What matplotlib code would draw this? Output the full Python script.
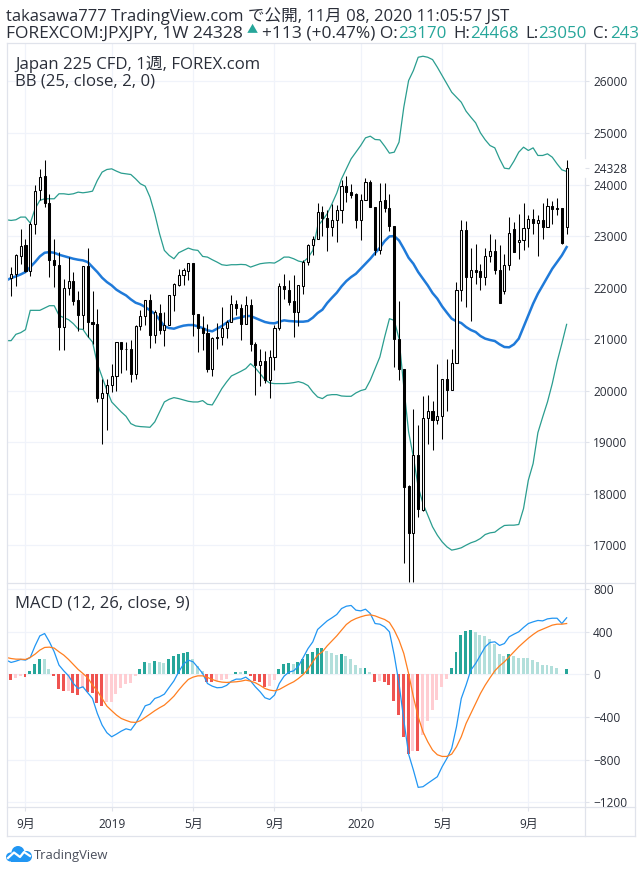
import matplotlib.pyplot as plt
import numpy as np
import pandas as pd

# 1. Weekly candles
opens = [22562, 22194, 22271, 22614, 22820, 22323, 23227, 23886, 24158, 23647, 22543, 22446, 21238, 22000, 22123, 21755, 21465, 22413, 21341, 21302,
         19862, 19959, 20120, 20294, 20953, 20818, 20818, 20333, 21251, 21444, 21767, 21089, 21515, 21186, 21283, 21864, 22045, 22239, 22323, 22485,
         21496, 21225, 21128, 20430, 21044, 21044, 21225, 21335, 21690, 21612, 21302, 21671, 20915, 20508, 20579, 20217, 20656, 21225, 22032, 21961,
         21735, 21528, 22032, 22497, 22820, 22950, 23473, 23350, 23176, 23318, 23512, 23964, 23860, 23809, 23318, 23705, 24054, 23563, 22724, 23693,
         23550, 23189, 21012, 20430, 18150, 17245, 18751, 17685, 19481, 19616, 19442, 19513, 20236, 20017, 20546, 21961, 23124, 22207, 22349, 22317,
         22207, 22614, 22704, 22349, 21935, 22446, 23143, 22885, 22930, 23163, 23337, 23253, 23305, 23176, 23576, 23550, 23550, 23170]
highs = [22594, 22400, 22646, 23130, 22950, 23273, 23983, 24306, 24468, 23822, 22950, 22691, 22174, 22594, 22304, 21929, 22413, 22775, 21929, 21580,
         20236, 20224, 20514, 20953, 20953, 20941, 20979, 21270, 21561, 21767, 21871, 21561, 21677, 21528, 21864, 22090, 22368, 22381, 22485, 22485,
         21496, 21444, 21302, 21044, 21322, 21625, 21367, 21851, 21767, 21690, 21832, 21787, 20947, 20805, 20773, 20786, 21270, 22097, 22258, 22142,
         22239, 22045, 22530, 22853, 22995, 23647, 23576, 23512, 23615, 23596, 24093, 24158, 24016, 23835, 23822, 24125, 24093, 23563, 24035, 24035,
         23809, 23189, 21735, 20430, 18169, 19655, 19345, 19894, 19926, 19797, 20527, 20236, 20624, 20818, 22110, 23305, 23292, 22775, 22853, 22465,
         22775, 23047, 22950, 22820, 22646, 23370, 23273, 23434, 23647, 23415, 23531, 23402, 23647, 23738, 23673, 23738, 23550, 24468]
lows = [22110, 21838, 22032, 22465, 22304, 22220, 23034, 23705, 23563, 22207, 22013, 20786, 20786, 21851, 21658, 21160, 21205, 21044, 20915, 19784,
        18977, 19235, 19978, 19997, 20346, 20398, 20172, 20224, 21173, 21283, 20831, 20928, 21109, 20870, 21283, 21548, 22032, 22045, 22142, 21063,
        20753, 20786, 20366, 20288, 20818, 20882, 21031, 21335, 21464, 20979, 21302, 20773, 19913, 20088, 20159, 19862, 20398, 21186, 21774, 21658,
        21044, 21257, 21871, 22433, 22627, 22950, 22995, 22711, 22995, 22885, 23253, 23660, 23744, 23156, 22930, 23705, 23563, 22627, 22646, 23466,
        23098, 20463, 20217, 16651, 16300, 16300, 17556, 17672, 18977, 18848, 19364, 19074, 19610, 20010, 20546, 21742, 21625, 21354, 22065, 21948,
        22045, 22497, 22258, 21703, 21871, 22336, 22691, 22556, 22736, 22788, 23047, 22607, 22943, 23176, 23240, 23402, 22853, 23050]
closes = [22174, 22271, 22627, 22808, 22323, 23240, 23873, 24145, 23641, 22530, 22433, 21238, 22000, 22123, 21742, 21465, 22413, 21335, 21289, 19862,
          19965, 20120, 20294, 20953, 20818, 20811, 20333, 21251, 21444, 21767, 21089, 21528, 21173, 21283, 21864, 22065, 22239, 22336, 22485, 21496,
          21225, 21128, 20430, 21031, 21025, 21225, 21335, 21690, 21612, 21302, 21671, 20915, 20508, 20579, 20217, 20656, 21225, 22032, 21968, 21722,
          21528, 22045, 22497, 22820, 22950, 23473, 23350, 23176, 23318, 23512, 23964, 23854, 23796, 23318, 23705, 24054, 23563, 22724, 23680, 23550,
          23189, 21012, 20430, 18137, 17245, 18751, 17717, 19481, 19616, 19442, 19513, 20236, 20017, 20546, 21961, 23124, 22207, 22349, 22304, 22207,
          22620, 22704, 22336, 21703, 22446, 23066, 22691, 22930, 23163, 23337, 23253, 23305, 23176, 23576, 23531, 23531, 22866, 24328]

# Bollinger bands
bb_upper = [23318, 23305, 23318, 23370, 23370, 23253, 23531, 23693, 23725, 23725, 23725, 23822, 23822, 23809, 23822, 23854, 23841, 23854, 23873, 24080,
            24242, 24293, 24306, 24261, 24222, 24209, 24196, 24112, 24016, 23970, 23757, 23434, 23047, 22724, 22627, 22562, 22678, 22724, 22769, 22736,
            22724, 22607, 22594, 22543, 22497, 22446, 22433, 22446, 22446, 22452, 22446, 22400, 22433, 22465, 22478, 22485, 22478, 22530, 22594, 22594,
            22562, 22517, 22497, 22581, 22724, 23189, 23305, 23434, 23628, 23835, 24112, 24306, 24500, 24629, 24758, 24907, 24939, 24875, 24868, 24746,
            24610, 24629, 24823, 25501, 26018, 26212, 26470, 26490, 26470, 26425, 26277, 26115, 25954, 25792, 25695, 25598, 25424, 25308, 25198, 25004,
            24868, 24758, 24713, 24500, 24319, 24306, 24455, 24629, 24726, 24662, 24713, 24565, 24565, 24597, 24532, 24403, 24287, 24255]
bb_mid = [22142, 22187, 22220, 22258, 22304, 22400, 22497, 22607, 22678, 22691, 22678, 22640, 22614, 22588, 22562, 22543, 22530, 22497, 22400, 22304,
          22194, 22110, 22045, 21961, 21903, 21851, 21774, 21709, 21677, 21625, 21561, 21496, 21380, 21251, 21218, 21205, 21238, 21264, 21276, 21276,
          21251, 21218, 21173, 21154, 21205, 21257, 21322, 21380, 21406, 21425, 21451, 21451, 21412, 21373, 21335, 21315, 21309, 21341, 21367, 21354,
          21348, 21341, 21341, 21354, 21419, 21509, 21574, 21703, 21806, 21903, 22026, 22129, 22207, 22271, 22368, 22465, 22562, 22672, 22775, 22904,
          22995, 23001, 22917, 22756, 22581, 22465, 22304, 22174, 22045, 21897, 21787, 21638, 21516, 21399, 21348, 21315, 21238, 21180, 21141, 21063,
          21012, 20986, 20966, 20902, 20850, 20844, 20902, 21012, 21238, 21464, 21690, 21884, 22045, 22207, 22368, 22497, 22627, 22788]
bb_lower = [20973, 20973, 21096, 21128, 21186, 21561, 21561, 21561, 21606, 21651, 21651, 21464, 21419, 21380, 21302, 21199, 21192, 21057, 20947, 20527,
            20269, 20010, 19784, 19687, 19590, 19506, 19364, 19319, 19306, 19300, 19293, 19397, 19590, 19784, 19836, 19868, 19849, 19823, 19797, 19784,
            19784, 19810, 19739, 19726, 19881, 20043, 20172, 20288, 20333, 20379, 20430, 20527, 20443, 20333, 20217, 20152, 20140, 20140, 20140, 20146,
            20159, 20178, 20152, 20101, 19978, 19881, 19849, 19913, 19926, 19926, 19900, 19894, 19894, 19959, 20004, 20030, 20204, 20430, 20656, 21044,
            21399, 21367, 21012, 20075, 19203, 18718, 18137, 17814, 17588, 17362, 17200, 17071, 16974, 16910, 16929, 16955, 17006, 17052, 17084, 17136,
            17213, 17245, 17258, 17329, 17388, 17394, 17394, 17407, 17717, 18266, 18589, 19189, 19493, 19784, 20140, 20560, 20915, 21289]

# MACD pane
macd_line = [135, 113, 125, 141, 135, 160, 269, 363, 385, 307, 213, 88, 34, -13, -85, -132, -116, -172, -226, -366,
             -476, -548, -586, -561, -533, -511, -523, -461, -382, -295, -279, -226, -210, -185, -122, -60, 25, 97, 135, 119,
             66, 9, -85, -110, -125, -122, -103, -63, -44, -44, -25, -60, -116, -163, -219, -235, -194, -85, -16, 22,
             34, 78, 160, 244, 307, 423, 464, 504, 533, 564, 620, 642, 649, 605, 598, 614, 573, 479, 473, 448,
             401, 182, -85, -429, -749, -899, -1062, -1056, -1024, -993, -962, -868, -790, -696, -492, -226, -100, 41, 103, 182,
             260, 301, 307, 273, 291, 354, 379, 401, 442, 479, 495, 508, 504, 523, 529, 529, 479, 533]
signal_line = [160, 150, 144, 144, 141, 160, 191, 229, 254, 257, 248, 213, 182, 141, 94, 47, 9, -31, -100, -154,
               -226, -298, -341, -382, -414, -432, -448, -451, -435, -404, -373, -341, -313, -288, -248, -204, -147, -94, -47, -25,
               -13, -13, -28, -47, -63, -72, -75, -72, -69, -63, -53, -63, -78, -103, -132, -147, -154, -141, -116, -91,
               -69, -38, 0, 50, 119, 182, 213, 269, 316, 363, 417, 470, 504, 526, 542, 555, 561, 551, 533, 517,
               489, 417, 323, 197, 9, -210, -398, -539, -633, -711, -755, -771, -771, -749, -680, -586, -461, -367, -273, -179,
               -100, -31, 34, 81, 119, 166, 213, 260, 301, 341, 376, 407, 426, 445, 464, 473, 473, 479]
macd_hist = [-25, -50, -30, -10, -25, 35, 97, 144, 143, 50, -15, -141, -157, -156, -179, -194, -132, -163, -172, -273,
             -298, -263, -257, -185, -125, -94, -85, -16, 50, 119, 107, 125, 116, 107, 144, 172, 194, 200, 210, 144,
             78, 34, -69, -72, -60, -55, -38, 3, 22, 21, 31, -19, -63, -75, -116, -110, -53, 50, 97, 107,
             97, 113, 150, 191, 207, 245, 248, 219, 200, 182, 192, 172, 144, 88, 60, 62, 22, -69, -63, -69,
             -100, -247, -378, -585, -748, -716, -717, -570, -435, -335, -241, -116, -44, 57, 210, 370, 408, 417, 399, 370,
             361, 332, 285, 191, 172, 191, 172, 154, 153, 152, 135, 116, 88, 87, 78, 60, 3, 50]

price_ticks = [17000, 18000, 19000, 20000, 21000, 22000, 23000, 24000, 25000, 26000]
macd_ticks = [-1200, -800, -400, 0, 400, 800]
macd_labels = ['−1200', '−800', '−400', '0', '400', '800']
month_weeks = [4, 22, 39, 56, 74, 91, 109]
month_labels = ['9月', '2019', '5月', '9月', '2020', '5月', '9月']

df = pd.DataFrame({'open': opens, 'high': highs, 'low': lows, 'close': closes})
df['week'] = df.index

# 2. Setup the visual style
plt.rcParams['font.family'] = ['Open Sans', 'Noto Sans CJK JP', 'DejaVu Sans']
W, H = 641, 872
INK = '#2a2e39'
TEAL = '#26a69a'
FRAME = '#e0e3eb'
GRID = '#f0f3fa'
fig = plt.figure(figsize=(W / 100, H / 100), dpi=100)

# 3. Price pane with candles and bands
plt.axes([6.5 / W, 1 - 582.5 / H, 578 / W, 539 / H])
plt.plot(df['week'], bb_upper, color='#2a9d8f', linewidth=0.9, zorder=2)
plt.plot(df['week'], bb_lower, color='#2a9d8f', linewidth=0.9, zorder=2)
plt.plot(df['week'], bb_mid, color='#1f7ad9', linewidth=1.8, zorder=2)
plt.vlines(df['week'], df['low'], df['high'], color='black', linewidth=0.75, zorder=3)
faces = ['white' if c > o else 'black' for o, c in zip(opens, closes)]
plt.bar(df['week'], (df['close'] - df['open']).abs(), bottom=df[['open', 'close']].min(axis=1), width=0.44,
        color=faces, edgecolor='black', linewidth=0.75, zorder=4)
plt.xlim(0.04, 120.73)
plt.ylim(16282, 26737)
plt.xticks(month_weeks, [])
plt.yticks(price_ticks + [24328], [str(t) for t in price_ticks] + ['24328'], fontsize=8.6, color=INK)
plt.gca().yaxis.tick_right()
plt.tick_params(axis='y', length=3, width=0.8, color=FRAME, pad=3.2)
plt.tick_params(axis='x', length=0)
plt.gca().get_yticklines()[-1].set_color(INK)
plt.grid(color=GRID, linewidth=0.9, zorder=0)
plt.gca().get_ygridlines()[-1].set_visible(False)
for side in plt.gca().spines.values():
    side.set_visible(False)

# 4. MACD pane
plt.axes([6.5 / W, 1 - 806.5 / H, 578 / W, 224 / H])
bar_colors = []
for i, h in enumerate(macd_hist):
    prev = macd_hist[i - 1] if i else h
    if h >= 0:
        bar_colors.append('#26a69a' if h > prev else '#b2dfdb')
    else:
        bar_colors.append('#ef5350' if h < prev else '#ffcdd2')
plt.bar(np.arange(len(macd_hist)) - 0.1, macd_hist, width=0.62, color=bar_colors, zorder=2)
plt.plot(df['week'], macd_line, color='#2196f3', linewidth=0.9, zorder=3)
plt.plot(df['week'], signal_line, color='#ff7f20', linewidth=0.9, zorder=4)
plt.xlim(0.04, 120.73)
plt.ylim(-1242, 865)
plt.xticks(month_weeks, month_labels, fontsize=8.6, color=INK)
plt.yticks(macd_ticks, macd_labels, fontsize=8.6, color=INK)
plt.gca().yaxis.tick_right()
plt.tick_params(axis='y', length=3, width=0.8, color=FRAME, pad=3.2)
plt.tick_params(axis='x', length=3, width=0.8, color=FRAME, pad=5)
plt.grid(color=GRID, linewidth=0.9, zorder=0)
for side in plt.gca().spines.values():
    side.set_visible(False)

# 5. Frame around both panes
for x0, y0, x1, y1 in [(6.5, 43.5, 634.5, 43.5), (6.5, 835.5, 634.5, 835.5), (6.5, 43.5, 6.5, 835.5), (634.5, 43.5, 634.5, 835.5),
                       (6.5, 582.5, 634.5, 582.5), (6.5, 806.5, 634.5, 806.5), (584.5, 43.5, 584.5, 158), (584.5, 178, 584.5, 835.5)]:
    fig.add_artist(plt.Line2D([x0 / W, x1 / W], [1 - y0 / H, 1 - y1 / H], color=FRAME, linewidth=0.9))

# 6. Header and pane captions
plt.figtext(6.5 / W, 1 - 20.7 / H, 'takasawa777 TradingView.com で公開, 11月 08, 2020 11:05:57 JST', fontsize=11.95, color=INK)
plt.figtext(6.5 / W, 1 - 37.7 / H, 'FOREXCOM:JPXJPY, 1W 24328', fontsize=12.5, color=INK)
plt.figtext(252.5 / W, 1 - 33.5 / H, '▲', fontsize=8, color=TEAL, ha='center')
plt.figtext(262 / W, 1 - 37.7 / H, '+113 (+0.47%) O:', fontsize=12.5, color=INK)
plt.figtext(398.5 / W, 1 - 37.7 / H, '23170', fontsize=12.2, color=TEAL)
plt.figtext(453 / W, 1 - 37.7 / H, 'H:', fontsize=12.2, color=INK)
plt.figtext(470.5 / W, 1 - 37.7 / H, '24468', fontsize=12.2, color=TEAL)
plt.figtext(525 / W, 1 - 37.7 / H, 'L:', fontsize=12.2, color=INK)
plt.figtext(538.5 / W, 1 - 37.7 / H, '23050', fontsize=12.2, color=TEAL)
plt.figtext(593 / W, 1 - 37.7 / H, 'C:', fontsize=12.2, color=INK)
plt.figtext(610.5 / W, 1 - 37.7 / H, '243', fontsize=12.2, color=TEAL)
plt.figtext(15 / W, 1 - 68.7 / H, 'Japan 225 CFD, 1週, FOREX.com', fontsize=12.1, color=INK)
plt.figtext(15 / W, 1 - 86 / H, 'BB (25, close, 2, 0)', fontsize=12.1, color=INK)
plt.figtext(15 / W, 1 - 607.7 / H, 'MACD (12, 26, close, 9)', fontsize=12, color=INK)

# 7. TradingView logo
plt.axes([6 / W, 1 - 862 / H, 27 / W, 17 / H])
for cx, cy, r in [(10.5, 857, 4.5), (18, 852.5, 6.5), (26.5, 856.5, 5.5)]:
    plt.gca().add_patch(plt.Circle((cx, cy), r, color='#2196f3', linewidth=0))
plt.gca().add_patch(plt.Rectangle((10.5, 856), 16, 5.5, color='#2196f3', linewidth=0))
plt.plot([8, 14, 20, 24, 30], [858, 852.5, 857, 852, 856], color='white', linewidth=1.6)
plt.xlim(6, 33)
plt.ylim(862, 845)
plt.axis('off')
plt.figtext(34 / W, 1 - 858.5 / H, 'TradingView', fontsize=9.4, color='#4a4f5c')

# 8. Save the chart as an image
plt.savefig('out.png', dpi=100)
print("Saved out.png")
